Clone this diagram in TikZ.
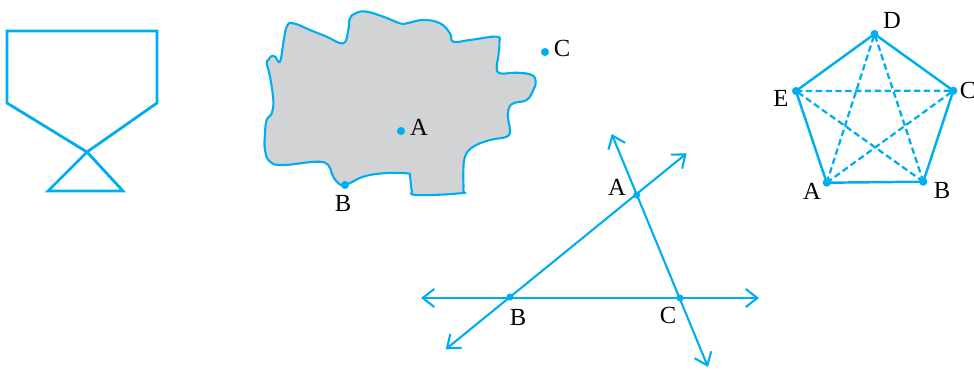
\documentclass[tikz,border=0pt]{standalone}
\usepackage{fontspec}
\setmainfont{Liberation Serif}
\usetikzlibrary{arrows.meta}
\definecolor{NcBlue}{RGB}{0,174,239}
\definecolor{NcGray}{RGB}{209,211,212}
\tikzset{
  fig/.style={NcBlue, line width=1.4pt},
  ray/.style={NcBlue, line width=1.2pt, {Straight Barb[length=2.3mm,width=3.6mm]}-{Straight Barb[length=2.3mm,width=3.6mm]}},
  diag/.style={NcBlue, line width=1.3pt, dash pattern=on 3.6pt off 2pt},
  dot/.style={circle, fill=NcBlue, inner sep=0pt, minimum size=4.6pt},
  lbl/.style={font=\fontsize{14}{16}\selectfont, inner sep=0pt},
}

\begin{document}
\begin{tikzpicture}[x=0.02cm,y=-0.02cm]
\useasboundingbox (0,0) rectangle (974,369);

% figure with a crossing
\draw[fig, line width=1.6pt] (7,31) -- (157,31) -- (157,103) -- (87,152) -- (48,191)
    -- (123,191) -- (87,152) -- (7,103) -- cycle;

% region
\draw[NcBlue, line width=1.2pt, fill=NcGray] plot[smooth cycle, tension=0.7] coordinates {
    (268.3,60) (271,56.5) (275,56.5) (280,61.7) (283.3,43.3) (286.7,26.7) (293.3,23.3)
    (310,30) (326.7,36.7) (343.3,43.3) (348.3,30) (350,18.3) (356.7,12.7) (366.7,11.7)
    (383.3,16.7) (400,23.3) (406.7,23.3) (423.3,20) (440,23.3) (450,33.3) (453.3,41.7)
    (470,40) (496.7,36.7) (499.3,43.3) (498.3,56.7) (496.7,66.7) (500,73.3) (516.7,72.7)
    (531.7,75) (535.7,81.7) (533.3,90) (526.7,100) (513.3,103.3) (508.3,110) (508.3,120)
    (510,130) (506.7,136.7) (490,140) (473.3,146.7) (465,156.7) (463.3,173.3) (463.3,190)
    (460,193.3) (416.7,195) (411.7,190) (410,176.7) (406.7,173.3) (383.3,173.3)
    (363.3,176.7) (345,185) (336.7,181.7) (331.7,173.3) (328.3,165) (316.7,161.7)
    (283.3,165) (270,161.7) (265,150) (265,133.3) (266.7,120) (271.7,113.3) (273.3,100)
    (270,76.7) (266.7,63.3)};
\node[dot] (rA) at (401,131) {};
\node[dot] (rB) at (345,185) {};
\node[dot] (rC) at (545,52) {};
\node[lbl] (rAl) at (419,127) {A};
\node[lbl] (rBl) at (343,203) {B};
\node[lbl] (rCl) at (562,48) {C};

% three lines
\coordinate (lA) at (636.7,195);
\coordinate (lB) at (510,297);
\coordinate (lC) at (680,298);
\coordinate (hl) at (421,298);
\coordinate (hr) at (759,298);
\coordinate (bl) at (445.7,349.3);
\coordinate (tr) at (686.7,153.3);
\coordinate (tt) at (611.7,134);
\coordinate (bb) at (708,367);
\draw[ray] (hl) -- (hr);
\draw[ray] (bl) -- (tr);
\draw[ray] (tt) -- (bb);
\foreach \p in {lA,lB,lC} \node[dot, minimum size=4pt] (\p-d) at (\p) {};
\node[lbl] (lAl) at (617,187) {A};
\node[lbl] (lBl) at (518,317) {B};
\node[lbl] (lCl) at (668,315) {C};

% pentagon
\coordinate (pA) at (826.7,182.7);
\coordinate (pB) at (923.3,181.7);
\coordinate (pC) at (953.3,90.7);
\coordinate (pD) at (874.5,34);
\coordinate (pE) at (796,91);
\draw[fig] (pA) -- (pB) -- (pC) -- (pD) -- (pE) -- cycle;
\draw[diag] (pA) -- (pC) (pA) -- (pD) (pB) -- (pD) (pB) -- (pE) (pE) -- (pC);
\foreach \p in {pA,pB,pC,pD,pE} \node[dot] (\p-d) at (\p) {};
\node[lbl] (pAl) at (812,191) {A};
\node[lbl] (pBl) at (942,190) {B};
\node[lbl] (pCl) at (968,90) {C};
\node[lbl] (pDl) at (892,20) {D};
\node[lbl] (pEl) at (781,98) {E};
\end{tikzpicture}
\end{document}
